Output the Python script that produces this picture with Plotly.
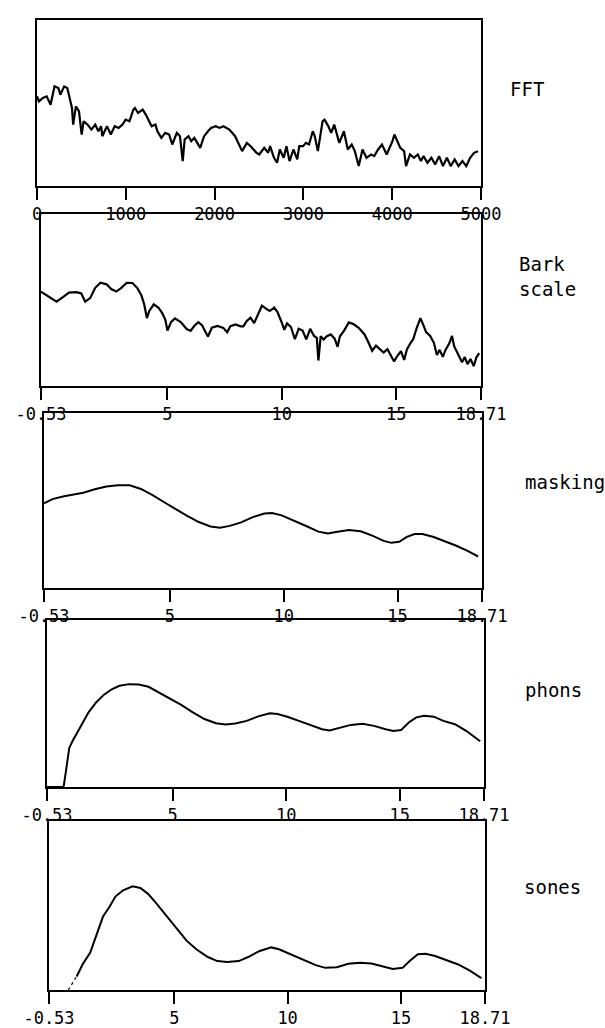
import plotly.graph_objects as go

# ---------------- data ----------------
fft_hz = [0, 22, 66, 109, 153, 197, 241, 263, 306, 341, 394, 407, 438, 473, 503, 525, 569, 613,
          656, 691, 722, 735, 788, 831, 875, 919, 963, 998, 1041, 1085, 1103, 1138, 1190, 1225,
          1291, 1334, 1356, 1400, 1444, 1488, 1523, 1575, 1610, 1641, 1663, 1706, 1737, 1772,
          1838, 1881, 1925, 1960, 2013, 2056, 2100, 2166, 2231, 2310, 2363, 2406, 2472, 2503,
          2559, 2603, 2625, 2669, 2704, 2734, 2778, 2809, 2844, 2888, 2931, 2953, 2997, 3028,
          3063, 3106, 3128, 3163, 3216, 3238, 3281, 3313, 3347, 3404, 3456, 3500, 3544, 3579,
          3623, 3666, 3710, 3763, 3798, 3841, 3885, 3938, 4003, 4025, 4091, 4134, 4156, 4200,
          4244, 4288, 4323, 4353, 4397, 4441, 4484, 4528, 4572, 4616, 4659, 4703, 4747, 4791,
          4834, 4878, 4922, 4966]
fft_level = [54, 51, 53, 54, 49, 60, 59, 55, 60, 59, 47, 37, 48, 45, 31, 39, 37, 34,
             37, 33, 36, 30, 36, 31, 36, 35, 37, 40, 39, 46, 47, 44, 46, 43,
             36, 37, 33, 29, 32, 31, 25, 32, 30, 15, 28, 30, 27, 29,
             23, 30, 33, 35, 36, 35, 36, 34, 30, 21, 26, 24, 20, 19,
             23, 20, 24, 17, 14, 22, 17, 24, 15, 22, 16, 24, 24, 26,
             25, 33, 30, 21, 39, 40, 36, 32, 37, 26, 33, 22, 25, 21,
             12, 22, 17, 19, 18, 22, 25, 19, 27, 31, 23, 21, 12, 19,
             17, 19, 15, 18, 14, 17, 13, 18, 12, 17, 12, 16, 12, 15,
             12, 17, 20, 21]

bark_z = [-0.53, -0.24, 0.15, 0.43, 0.69, 1.02, 1.23, 1.40, 1.62, 1.84, 2.07, 2.34, 2.54, 2.76,
          2.97, 3.22, 3.47, 3.69, 3.86, 3.98, 4.10, 4.20, 4.40, 4.61, 4.77, 4.91, 5.00, 5.16,
          5.33, 5.58, 5.84, 6.01, 6.18, 6.35, 6.51, 6.68, 6.77, 6.94, 7.19, 7.44, 7.61, 7.75,
          7.98, 8.20, 8.32, 8.46, 8.63, 8.79, 8.96, 9.13, 9.34, 9.47, 9.67, 9.81, 9.98, 10.11,
          10.23, 10.40, 10.57, 10.74, 10.91, 11.07, 11.24, 11.41, 11.53, 11.60, 11.70, 11.83,
          11.97, 12.14, 12.31, 12.44, 12.54, 12.71, 12.93, 13.15, 13.36, 13.61, 13.78, 13.95,
          14.12, 14.28, 14.45, 14.62, 14.79, 14.91, 15.04, 15.21, 15.35, 15.47, 15.64, 15.75,
          15.89, 16.06, 16.19, 16.31, 16.48, 16.65, 16.78, 16.90, 17.04, 17.16, 17.33, 17.44,
          17.54, 17.75, 17.88, 18.00, 18.12, 18.25, 18.39, 18.51, 18.63]
bark_level = [54.9, 52.4, 49.0, 51.7, 54.3, 54.6, 53.8, 49.1, 51.1, 57.1, 60.1, 59.1, 56.4, 54.9,
              56.9, 60.0, 59.9, 56.8, 52.7, 47.6, 39.5, 43.5, 47.5, 45.5, 42.4, 38.3, 32.2, 37.3,
              39.3, 37.2, 33.1, 32.0, 35.0, 37.1, 35.4, 30.9, 28.8, 33.9, 34.9, 33.8, 31.2, 34.8,
              35.8, 34.7, 34.7, 37.7, 39.7, 36.6, 41.7, 46.7, 44.7, 43.6, 45.6, 43.0, 37.5, 32.7,
              36.4, 34.3, 27.2, 33.3, 32.2, 27.1, 33.2, 29.1, 28.0, 14.8, 29.0, 27.0,
              29.0, 30.0, 27.5, 22.8, 28.9, 31.9, 37.0, 35.9, 33.8, 30.1, 25.6, 20.5,
              23.5, 21.5, 19.4, 21.4, 17.3, 14.3, 17.3, 20.3, 15.2, 21.3, 25.3, 27.3,
              33.4, 39.5, 35.4, 31.3, 29.2, 25.1, 18.0, 21.0, 17.0, 21.0, 25.0, 29.1,
              23.0, 17.8, 13.8, 16.8, 12.7, 15.7, 11.6, 16.7, 19.1]

mask_z = [-0.53, -0.16, 0.35, 0.86, 1.20, 1.70, 2.21, 2.72, 3.23, 3.73, 4.24, 4.75, 5.26, 5.76,
          6.27, 6.78, 7.20, 7.63, 8.13, 8.64, 9.15, 9.49, 9.91, 10.50, 11.01, 11.52, 11.94,
          12.36, 12.87, 13.38, 13.89, 14.39, 14.73, 15.07, 15.41, 15.75, 16.09, 16.59, 17.10,
          17.61, 18.12, 18.54]
mask_level = [48.4, 50.8, 52.4, 53.4, 54.4, 56.4, 58.0, 58.7, 58.7, 56.6, 53.1, 49.0, 44.9, 41.2,
              37.7, 35.2, 34.5, 35.5, 37.5, 40.5, 42.6, 42.9, 41.5, 38.4, 35.3, 32.2, 31.1,
              32.1, 33.1, 32.4, 29.9, 26.9, 25.8, 26.4, 29.2, 30.8, 30.8, 29.1, 26.7,
              24.0, 20.9, 18.0]

phon_z = [-0.53, 0.20, 0.29, 0.37, 0.45, 0.59, 0.79, 1.05, 1.30, 1.64, 1.98, 2.32, 2.66, 3.09,
          3.51, 3.94, 4.36, 4.87, 5.38, 5.89, 6.40, 6.91, 7.33, 7.76, 8.26, 8.77, 9.28, 9.62,
          10.05, 10.56, 11.07, 11.58, 11.91, 12.34, 12.85, 13.36, 13.87, 14.38, 14.72, 15.06,
          15.40, 15.73, 16.07, 16.50, 16.92, 17.43, 17.94, 18.54]
phon_level = [0, 0, 8.1, 16.3, 23.4, 27.4, 32.5, 38.6, 44.7, 50.8, 55.3, 58.5, 60.6, 61.6,
              61.4, 60.0, 56.9, 52.8, 49.2, 44.7, 40.7, 38.2, 37.4, 38.0, 39.6, 42.3, 44.1, 43.7,
              42.1, 39.6, 37.0, 34.6, 33.9, 35.6, 37.2, 37.8, 36.6, 34.6, 33.5, 34.1,
              38.6, 41.7, 42.7, 42.1, 39.6, 37.6, 33.5, 27.4]

sone_z = [0.32, 0.52, 0.69, 0.95, 1.29, 1.54, 1.85, 2.14, 2.40, 2.74, 3.16, 3.50, 3.84, 4.18,
          4.69, 5.12, 5.54, 5.97, 6.48, 6.90, 7.33, 7.84, 8.26, 8.77, 9.28, 9.62, 10.22, 10.73,
          11.24, 11.66, 12.17, 12.68, 13.19, 13.70, 14.22, 14.64, 15.07, 15.41, 15.75, 16.09,
          16.51, 17.02, 17.53, 18.04, 18.55]
sone_level = [0, 4.0, 8.0, 15.1, 22.1, 31.2, 43.3, 49.3, 55.3, 59.0, 61.4, 60.4, 56.9, 51.7,
              43.3, 36.2, 29.2, 24.1, 19.5, 17.1, 16.5, 17.1, 19.5, 23.1, 25.2, 24.1, 20.7, 17.5,
              14.7, 13.1, 13.5, 15.5, 16.1, 15.7, 14.1, 12.5, 13.1, 17.5, 21.1, 21.5,
              20.1, 17.5, 15.1, 11.5, 7.0]

fft_ticks = [0, 1000, 2000, 3000, 4000, 5000]
fft_ticktext = ["0", "1000", "2000", "3000", "4000", "5000"]
bark_ticks = [-0.53, 5, 10, 15, 18.71]
bark_ticktext = ["-0.53", "5", "10", "15", "18.71"]
panel_names = ["FFT", "Bark<br>scale", "masking", "phons", "sones"]

# ---------------- layout ----------------
W, H = 605, 1028
# pixel boxes (left, right, top, bottom)
boxes = [(37, 481, 20, 186), (41, 481, 214, 386), (44, 482, 413, 588),
         (47, 484, 620, 787), (49, 485, 821, 990)]
label_pos = [(508, 89), (517, 277), (523, 482), (523, 690), (522, 887)]

series = [(fft_hz, fft_level), (bark_z, bark_level), (mask_z, mask_level),
          (phon_z, phon_level), (sone_z, sone_level)]
widths = [2.2, 2.2, 2.0, 2.0, 2.0]

fig = go.Figure()
MONO = "DejaVu Sans Mono"

for i, ((xs, ys), box) in enumerate(zip(series, boxes), start=1):
    suffix = "" if i == 1 else str(i)
    if i == 5:
        # faint start of the sones curve
        fig.add_trace(go.Scatter(x=xs[:3], y=ys[:3], mode="lines",
                                 line=dict(color="black", width=1.2, dash="dot"),
                                 xaxis="x" + suffix, yaxis="y" + suffix,
                                 showlegend=False, hoverinfo="skip"))
        fig.add_trace(go.Scatter(x=xs[2:], y=ys[2:], mode="lines",
                                 line=dict(color="black", width=widths[i - 1]),
                                 xaxis="x" + suffix, yaxis="y" + suffix,
                                 showlegend=False, hoverinfo="skip"))
    else:
        fig.add_trace(go.Scatter(x=xs, y=ys, mode="lines",
                                 line=dict(color="black", width=widths[i - 1]),
                                 xaxis="x" + suffix, yaxis="y" + suffix,
                                 showlegend=False, hoverinfo="skip"))
    l, r, t, b = box
    if i == 1:
        tv, tt, rng = fft_ticks, fft_ticktext, [0, 5000]
    else:
        tv, tt, rng = bark_ticks, bark_ticktext, [-0.53, 18.71]
    fig.update_layout(**{
        "xaxis" + suffix: dict(
            domain=[l / W, r / W], anchor="y" + suffix, range=rng,
            tickmode="array", tickvals=tv, ticktext=tt,
            ticks="outside", ticklen=12, tickwidth=2, tickcolor="black",
            ticklabelstandoff=-1,
            showline=True, linecolor="black", linewidth=2.2, mirror=True,
            showgrid=False, zeroline=False, automargin=False,
            tickfont=dict(family=MONO, size=17, color="black"),
        ),
        "yaxis" + suffix: dict(
            domain=[1 - b / H, 1 - t / H], anchor="x" + suffix, range=[0, 100],
            showticklabels=False, ticks="",
            showline=True, linecolor="black", linewidth=2.2, mirror=True,
            showgrid=False, zeroline=False, automargin=False,
        ),
    })

for name, (lx, ly) in zip(panel_names, label_pos):
    fig.add_annotation(text=name, x=lx / W, y=1 - ly / H, xref="paper", yref="paper",
                       xanchor="left", yanchor="middle", showarrow=False, align="left",
                       font=dict(family=MONO, size=19, color="black"))

fig.update_layout(width=W, height=H, margin=dict(l=0, r=0, t=0, b=0, autoexpand=False),
                  paper_bgcolor="white", plot_bgcolor="white")

fig.write_html("out.html")
